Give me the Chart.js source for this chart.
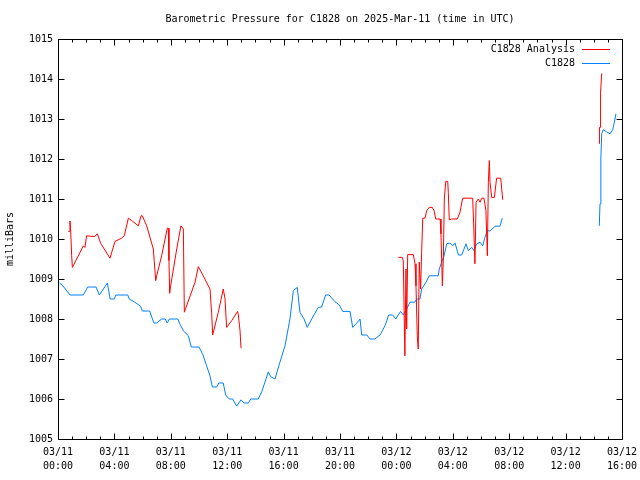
<!DOCTYPE html>
<html>
<head>
<meta charset="utf-8">
<script src="https://cdn.jsdelivr.net/npm/chart.js@4/dist/chart.umd.min.js"></script>
<style>
html,body{margin:0;padding:0;background:#fff;}
#wrap{width:640px;height:480px;}
</style>
</head>
<body>
<div id="wrap"><canvas id="c" width="640" height="480"></canvas></div>
<script>
// ---- data (hours since 2025-03-11 00:00 UTC) ----
const chartTitle = 'Barometric Pressure for C1828 on 2025-Mar-11 (time in UTC)';
const yAxisTitle = 'milliBars';
const seriesNames = ['C1828 Analysis', 'C1828'];
const seriesColors = ['#ff0000', '#0080ff'];
const xTickHours = [0, 4, 8, 12, 16, 20, 24, 28, 32, 36, 40];
const yTickValues = [1005, 1006, 1007, 1008, 1009, 1010, 1011, 1012, 1013, 1014, 1015];

const analysisHours = [
  0.73, 0.82, 0.85, 0.9, 0.97, 1.02, 1.8, 1.91, 2.03, 2.58, 2.79, 3.03, 3.69, 4.04, 4.51, 4.7,
  4.99, 5.23, 5.7, 5.89, 5.98, 6.29, 6.76, 6.93, 7.0, 7.35, 7.75, 7.82, 7.87, 7.92, 7.99, 8.42,
  8.72, 8.89, 8.96, 9.06, 9.72, 9.95, 10.3, 10.78, 10.9, 10.97, 11.37, 11.72, 11.84, 11.96, 12.32,
  12.74, 12.79, 12.91, 12.98,
  18,
  24.14, 24.42, 24.49, 24.6, 24.68, 24.73, 24.8, 25.2, 25.32, 25.39, 25.48, 25.55, 25.62, 25.72,
  25.79, 25.87, 26.03, 26.15, 26.33, 26.55, 26.67, 26.79, 27.1, 27.16, 27.26, 27.33, 27.4, 27.5,
  27.64, 27.68, 27.75, 27.92, 28.32, 28.51, 28.7, 29.41, 29.5, 29.57, 29.65, 29.81, 29.93, 30.05,
  30.21, 30.35, 30.45, 30.52, 30.59, 30.64, 30.76, 30.95, 31.06, 31.11, 31.4, 31.47, 31.54,
  35,
  38.39, 38.4, 38.47, 38.48, 38.56, 38.6
];
const analysisValues = [
  1010.19, 1010.19, 1010.45, 1010.2, 1009.58, 1009.29, 1009.83, 1009.79, 1010.08, 1010.06, 1010.13, 1009.89, 1009.52, 1009.94, 1010.02, 1010.08,
  1010.52, 1010.46, 1010.33, 1010.58, 1010.58, 1010.33, 1009.75, 1008.96, 1009.08, 1009.58, 1010.27, 1010.27, 1009.46, 1008.64, 1008.83, 1009.75,
  1010.33, 1010.25, 1008.17, 1008.27, 1008.92, 1009.31, 1009.08, 1008.75, 1008.13, 1007.6, 1008.17, 1008.75, 1008.52, 1007.79, 1007.96,
  1008.19, 1008.1, 1007.71, 1007.27,
  null,
  1009.54, 1009.54, 1009.45, 1007.08, 1009.25, 1007.75, 1009.61, 1009.61, 1009.38, 1008.83, 1007.58, 1007.25, 1009.42, 1008.75,
  1009.67, 1010.52, 1010.52, 1010.71, 1010.79, 1010.79, 1010.71, 1010.5, 1010.5, 1010.13, 1008.83, 1009.54, 1011.0, 1011.44,
  1011.44, 1011.17, 1010.48, 1010.5, 1010.5, 1010.67, 1011.02, 1011.02, 1010.17, 1009.38, 1010.92, 1011.0, 1010.92, 1011.02,
  1011.02, 1010.71, 1009.58, 1011.42, 1011.96, 1011.42, 1011.04, 1011.04, 1011.38, 1011.52, 1011.52, 1011.25, 1010.98,
  null,
  1012.38, 1012.79, 1012.79, 1013.67, 1014.13, 1014.13
];

const stationHours = [
  0.1, 0.3, 0.85, 1.8, 2.1, 2.7, 2.93, 3.5, 3.7, 4.0, 4.1, 4.95, 5.05, 5.45, 5.85, 5.98, 6.5, 6.8,
  7.0, 7.35, 7.6, 7.75, 7.9, 8.5, 8.65, 8.9, 9.25, 9.45, 10.0, 10.26, 10.54, 10.78, 10.95, 11.25,
  11.4, 11.72, 11.89, 12.15, 12.39, 12.67, 12.98, 13.19, 13.5, 13.67, 14.2, 14.45, 14.92, 15.08,
  15.39, 15.74, 16.1, 16.45, 16.69, 16.97, 17.16, 17.45, 17.68, 17.99, 18.46, 18.7, 18.98, 19.22,
  19.65, 19.95, 20.19, 20.71, 20.9, 21.13, 21.42, 21.54, 21.9, 22.13, 22.48, 22.84, 23.19, 23.45,
  23.74, 23.95, 24.3, 24.49, 24.73, 24.96, 25.3, 25.44, 25.67, 25.79, 26.1, 26.33, 26.97, 27.04,
  27.21, 27.38, 27.57, 27.8, 27.99, 28.16, 28.4, 28.63, 28.94, 29.1, 29.34, 29.5, 29.7, 29.93,
  30.12, 30.28, 30.45, 30.64, 31.0, 31.35, 31.51,
  35,
  38.39, 38.44, 38.5, 38.56, 38.67, 38.91, 39.15, 39.34, 39.46, 39.57
];
const stationValues = [
  1008.9, 1008.85, 1008.6, 1008.6, 1008.8, 1008.8, 1008.6, 1008.9, 1008.5, 1008.5, 1008.6, 1008.6, 1008.5, 1008.42, 1008.32, 1008.2, 1008.2, 1007.9,
  1007.9, 1008.0, 1008.0, 1007.9, 1008.0, 1008.0, 1007.87, 1007.7, 1007.58, 1007.3, 1007.3, 1007.12, 1006.83, 1006.58, 1006.3, 1006.3,
  1006.4, 1006.4, 1006.1, 1006.0, 1006.0, 1005.82, 1005.98, 1005.9, 1005.9, 1006.0, 1006.0, 1006.18, 1006.68, 1006.56,
  1006.5, 1006.92, 1007.33, 1008.0, 1008.71, 1008.79, 1008.17, 1008.0, 1007.79, 1008.0, 1008.29, 1008.3, 1008.6, 1008.6,
  1008.43, 1008.35, 1008.19, 1008.19, 1007.79, 1007.87, 1008.0, 1007.6, 1007.6, 1007.5, 1007.5, 1007.6, 1007.83, 1008.1,
  1008.1, 1008.0, 1008.19, 1008.1, 1008.25, 1008.42, 1008.42, 1008.5, 1008.5, 1008.75, 1008.92, 1009.08, 1009.08, 1009.25,
  1009.42, 1009.58, 1009.88, 1009.9, 1009.83, 1009.9, 1009.6, 1009.6, 1009.88, 1009.71, 1009.79, 1009.71, 1009.88, 1009.92,
  1009.83, 1010.04, 1010.21, 1010.2, 1010.32, 1010.32, 1010.52,
  null,
  1010.33, 1010.88, 1012.0, 1012.63, 1012.73, 1012.68, 1012.63, 1012.73, 1012.92, 1013.13
];

// ---- build ----
const FONT = '"DejaVu Sans Mono", "Liberation Mono", monospace';
function pts(hs, vs) { return hs.map((h, i) => ({ x: h, y: vs[i] })); }
function hourLabel(h) {
  const day = 11 + Math.floor(h / 24);
  const hh = h % 24;
  return ['03/' + String(day).padStart(2, '0'), String(hh).padStart(2, '0') + ':00'];
}

const framePlugin = {
  id: 'frame',
  afterDatasetsDraw(chart) {
    const ctx = chart.ctx, a = chart.chartArea;
    const xs = chart.scales.x, ys = chart.scales.y;
    const L = Math.round(a.left) + 0.5, R = Math.round(a.right) + 0.5;
    const T = Math.round(a.top) + 0.5, B = Math.round(a.bottom) + 0.5;
    ctx.save();
    ctx.strokeStyle = '#000';
    ctx.lineWidth = 1;
    ctx.beginPath();
    ctx.rect(L, T, R - L, B - T);
    for (let h = xs.min; h <= xs.max; h += 1) {
      const px = Math.round(xs.getPixelForValue(h)) + 0.5;
      const len = (h % 4 === 0) ? 6 : 3;
      ctx.moveTo(px, B); ctx.lineTo(px, B - len);
      ctx.moveTo(px, T); ctx.lineTo(px, T + len);
    }
    yTickValues.forEach(v => {
      const py = Math.round(ys.getPixelForValue(v)) + 0.5;
      ctx.moveTo(L, py); ctx.lineTo(L + 6, py);
      ctx.moveTo(R, py); ctx.lineTo(R - 6, py);
    });
    ctx.stroke();
    ctx.restore();
  },
  afterDraw(chart) {
    const ctx = chart.ctx;
    ctx.save();
    ctx.font = '10px ' + FONT;
    ctx.textAlign = 'right';
    ctx.textBaseline = 'middle';
    seriesNames.forEach((name, i) => {
      const y = 49 + i * 14;
      ctx.fillStyle = '#000000';
      ctx.fillText(name, 575, y);
      ctx.fillStyle = seriesColors[i];
      ctx.fillRect(582, y, 28, 1);
    });
    ctx.restore();
  }
};

new Chart(document.getElementById('c'), {
  type: 'line',
  data: {
    datasets: [
      { label: seriesNames[0], data: pts(analysisHours, analysisValues), borderColor: seriesColors[0] },
      { label: seriesNames[1], data: pts(stationHours, stationValues), borderColor: seriesColors[1] }
    ]
  },
  options: {
    responsive: false,
    animation: false,
    devicePixelRatio: 1,
    spanGaps: false,
    elements: {
      line: { borderWidth: 1, tension: 0, fill: false },
      point: { radius: 0, hoverRadius: 0 }
    },
    layout: { padding: { left: 0, right: 18, top: 0, bottom: 0 } },
    plugins: {
      legend: { display: false },
      tooltip: { enabled: false },
      title: {
        display: true,
        fullSize: false,
        text: chartTitle,
        color: '#000',
        font: { family: FONT, size: 10, weight: 'normal', lineHeight: 1.2 },
        padding: { top: 13, bottom: 14 }
      }
    },
    scales: {
      x: {
        type: 'linear',
        min: 0, max: 40,
        grid: { display: false, drawTicks: false },
        border: { display: false },
        afterBuildTicks(s) { s.ticks = xTickHours.map(v => ({ value: v })); },
        afterFit(s) { s.height = 41; s.paddingLeft = 0; s.paddingRight = 0; },
        ticks: {
          autoSkip: false,
          maxRotation: 0,
          padding: 6,
          color: '#000',
          font: { family: FONT, size: 10, lineHeight: 1.4 },
          callback: v => hourLabel(v)
        }
      },
      y: {
        type: 'linear',
        min: 1005, max: 1015,
        grid: { display: false, drawTicks: false },
        border: { display: false },
        afterBuildTicks(s) { s.ticks = yTickValues.map(v => ({ value: v })); },
        afterFit(s) { s.width = 58; s.paddingTop = 0; s.paddingBottom = 0; },
        title: {
          display: true,
          text: yAxisTitle,
          color: '#000',
          font: { family: FONT, size: 10 },
          padding: { top: 4, bottom: 0 }
        },
        ticks: {
          padding: 5,
          color: '#000',
          font: { family: FONT, size: 10 },
          callback: v => String(v)
        }
      }
    }
  },
  plugins: [framePlugin]
});
</script>
</body>
</html>
